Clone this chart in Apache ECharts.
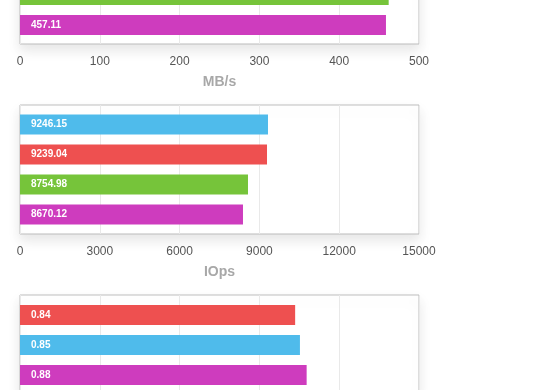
<!DOCTYPE html>
<html>
<head>
<meta charset="utf-8">
<script src="https://cdn.jsdelivr.net/npm/echarts@6/dist/echarts.min.js"></script>
<style>
html,body{margin:0;padding:0;background:#fff;}
#c{width:560px;height:390px;}
</style>
</head>
<body>
<div id="c"></div>
<script>
// ---- data ----
const palette = { blue: '#4FBBEB', red: '#EE5050', green: '#76C43A', magenta: '#CE3CBE' };

const mbpsSeries = ['green', 'magenta'];
const mbpsValues = [462.0, 458.6];
const mbpsLabels = ['', '457.11'];
const mbpsMax = 500, mbpsStep = 100;

const iopsSeries = ['blue', 'red', 'green', 'magenta'];
const iopsValues = [9323, 9286, 8571, 8383];
const iopsLabels = ['9246.15', '9239.04', '8754.98', '8670.12'];
const iopsMax = 15000, iopsStep = 3000;

const latSeries = ['red', 'blue', 'magenta'];
const latValues = [0.862, 0.877, 0.898];
const latLabels = ['0.84', '0.85', '0.88'];
const latMax = 1.25, latStep = 0.25;

const axisNames = ['MB/s', 'IOps', 'ms'];

// ---- chart ----
const FONT = '"Liberation Sans", Arial, Helvetica, sans-serif';
const gridBase = {
  show: true, left: 20, width: 399, outerBoundsMode: 'none', containLabel: false,
  backgroundColor: '#fff', borderColor: '#bdbdbd', borderWidth: 1,
  shadowColor: 'rgba(0,0,0,0.10)', shadowBlur: 12, shadowOffsetY: 6
};
const grids = [
  Object.assign({}, gridBase, { top: -24, height: 68 }),
  Object.assign({}, gridBase, { top: 105, height: 129 }),
  Object.assign({}, gridBase, { top: 295, height: 100 })
];
const maxes = [mbpsMax, iopsMax, latMax];
const steps = [mbpsStep, iopsStep, latStep];

const xAxes = grids.map((g, i) => ({
  type: 'value', gridIndex: i, min: 0, max: maxes[i], interval: steps[i],
  name: axisNames[i], nameLocation: 'middle', nameGap: 31,
  nameTextStyle: { color: '#a8a8a8', fontSize: 14, fontWeight: 'bold', fontFamily: FONT },
  axisLine: { show: false }, axisTick: { show: false },
  axisLabel: { color: '#555', fontSize: 12, margin: 12, fontFamily: FONT,
    formatter: v => String(v) },
  splitLine: { show: true, lineStyle: { color: '#e9e9e9', width: 1 } }
}));
const yAxes = grids.map((g, i) => ({
  type: 'category', gridIndex: i, data: ['all'], inverse: true, show: false
}));

function makeSeries(gi, keys, values, labels) {
  return keys.map((k, j) => ({
    type: 'bar', name: k, xAxisIndex: gi, yAxisIndex: gi,
    barWidth: 20, barGap: '50%',
    itemStyle: { color: palette[k] },
    label: {
      show: true, position: 'insideLeft', distance: 11,
      color: '#fff', fontSize: 10, fontWeight: 'bold', fontFamily: FONT,
      formatter: () => labels[j]
    },
    data: [values[j]],
    silent: true, animation: false
  }));
}

const series = [].concat(
  makeSeries(0, mbpsSeries, mbpsValues, mbpsLabels),
  makeSeries(1, iopsSeries, iopsValues, iopsLabels),
  makeSeries(2, latSeries, latValues, latLabels)
);

const chart = echarts.init(document.getElementById('c'), null, { renderer: 'canvas' });
chart.setOption({
  animation: false,
  backgroundColor: '#fff',
  grid: grids, xAxis: xAxes, yAxis: yAxes, series: series
});
</script>
</body>
</html>
